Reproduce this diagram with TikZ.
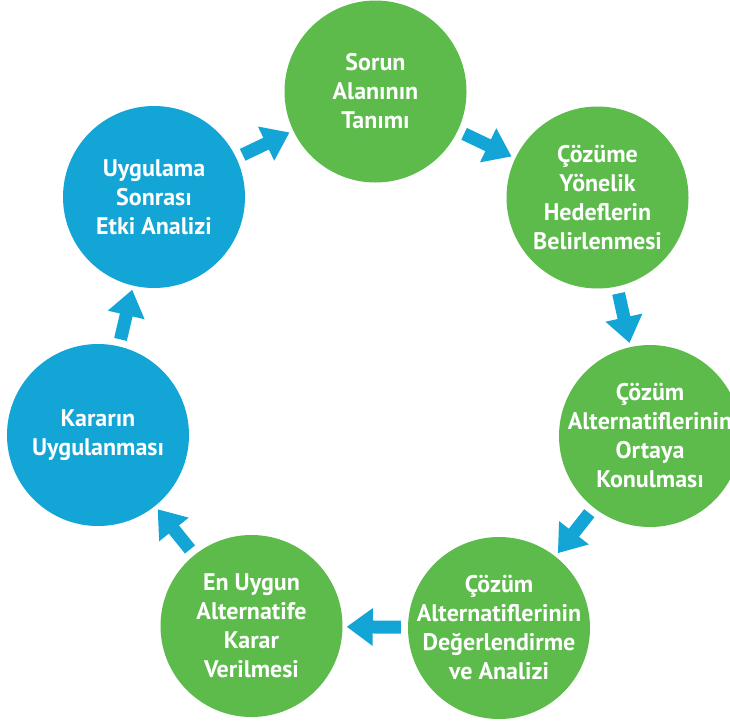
\documentclass[tikz,border=0pt]{standalone}
\usepackage{fontspec}
\setmainfont{PT Sans}
\usetikzlibrary{arrows.meta}
\definecolor{cgreen}{HTML}{5CBB4B}
\definecolor{cblue}{HTML}{12A5D6}
\begin{document}
\begin{tikzpicture}[x=1pt,y=-1pt,
  stage/.style={circle, minimum size=182pt, inner sep=0pt},
  gstage/.style={stage, fill=cgreen},
  bstage/.style={stage, fill=cblue},
  txt/.style={text=white, font=\bfseries\fontsize{24}{29}\selectfont, align=center, inner sep=0pt},
  flow/.style={draw=cblue, line width=13pt, -{Triangle[width=36pt,length=26pt]}, shorten <=7pt, shorten >=4pt}]
\useasboundingbox (0,0) rectangle (730,723);
\node[gstage] (c1) at (375.5,91.5) {};
\node[gstage] (c2) at (597.5,197.5) {};
\node[gstage] (c3) at (650,436) {};
\node[gstage] (c4) at (499,628) {};
\node[gstage] (c5) at (251.5,626) {};
\node[bstage] (c6) at (98,435) {};
\node[bstage] (c7) at (154,197) {};
\node[txt] (t1) at (c1) {Sorun\\Alanının\\Tanımı};
\node[txt] (t2) at (c2) {Çözüme\\Yönelik\\Hedeflerin\\Belirlenmesi};
\node[txt] (t3) at (c3) {Çözüm\\Alternatiflerinin\\Ortaya\\Konulması};
\node[txt] (t4) at (c4) {Çözüm\\Alternatiflerinin\\Değerlendirme\\ve Analizi};
\node[txt] (t5) at (c5) {En Uygun\\Alternatife\\Karar\\Verilmesi};
\node[txt] (t6) at (c6) {Kararın\\Uygulanması};
\node[txt] (t7) at (c7) {Uygulama\\Sonrası\\Etki Analizi};
\draw[flow] (c7) -- (c1);
\draw[flow] (c1) -- (c2);
\draw[flow] (c2) -- (c3);
\draw[flow] (c3) -- (c4);
\draw[flow] (c4) -- (c5);
\draw[flow] (c5) -- (c6);
\draw[flow] (c6) -- (c7);
\end{tikzpicture}
\end{document}
